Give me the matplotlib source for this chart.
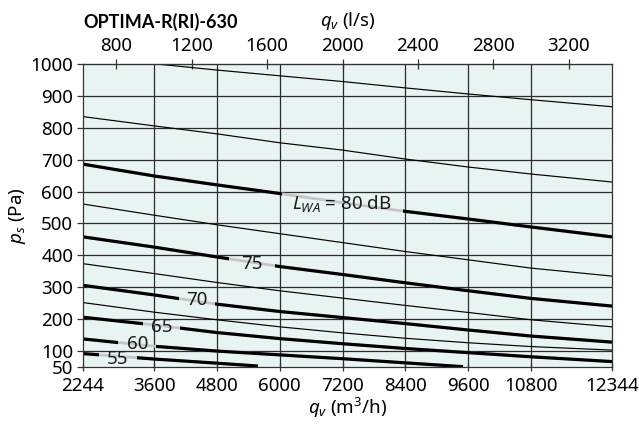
import numpy as np
import matplotlib
matplotlib.use("Agg")
import matplotlib.pyplot as plt
from matplotlib.patches import Rectangle

plt.rcParams['font.family'] = ['Noto Sans', 'DejaVu Sans']
plt.rcParams['mathtext.fontset'] = 'custom'
plt.rcParams['mathtext.rm'] = 'Noto Sans'
plt.rcParams['mathtext.it'] = 'Noto Sans:italic'

# airflow grid (m3/h) where the curves were read
q_grid = [2244, 3600, 4800, 6000, 7200, 8400, 9600, 10800, 12344]

# thin (intermediate) sound power curves, static pressure in Pa
thin_top_q = [3650, 4800, 6000, 7200, 8400, 9600, 10800, 12344]
thin_top_p = [1000, 981, 963, 945, 925, 906, 888, 866]
thin_825_p = [835, 806, 781, 753, 730, 702, 677, 655, 630]
thin_775_p = [561, 526, 496, 468, 440, 412, 386, 360, 335]
thin_725_p = [374, 343, 315, 289, 266, 243, 221, 198, 176]
thin_675_p = [252, 222, 198, 176, 157, 140, 126, 114, 103]

# labelled curves
lwa_80_p = [686, 649, 621, 594, 565, 538, 514, 489, 458]
lwa_75_p = [458, 426, 395, 365, 340, 314, 289, 265, 241]
lwa_70_p = [306, 276, 247, 224, 205, 186, 166, 147, 128]
lwa_65_p = [206, 182, 158, 139, 123, 108, 95, 82, 67]
lwa_60_q = [2244, 3600, 4800, 6000, 7200, 8400, 9500]
lwa_60_p = [138, 115, 100, 88, 76, 63, 51]
lwa_55_q = [2244, 3600, 4800, 5584]
lwa_55_p = [92, 75, 62, 53]

labels = ['$L_{WA}$ = 80 dB', '75', '70', '65', '60', '55']
label_q = [7190, 5470, 4420, 3750, 3280, 2910]
label_p = [564, 373, 260, 176, 122, 75]
gaps = [(6050, 8350), (5030, 5910), (4080, 4760), (3390, 4100), (2910, 3640), (2540, 3275)]

bottom_ticks = [2244, 3600, 4800, 6000, 7200, 8400, 9600, 10800, 12344]
top_ticks = [800, 1200, 1600, 2000, 2400, 2800, 3200]
y_ticks = [50, 100, 200, 300, 400, 500, 600, 700, 800, 900, 1000]

fs = 13.5

fig = plt.figure(figsize=(6.39, 4.24), dpi=100)
ax = fig.add_axes([83 / 639, 1 - 367 / 424, 529 / 639, 303 / 424])
ax.set_facecolor('#e8f4f1')
ax.set_xlim(2244, 12344)
ax.set_ylim(50, 1000)

grid_col = '#2b2b2b'
for x in bottom_ticks[1:-1]:
    ax.axvline(x, color=grid_col, lw=0.9, zorder=1)
for y in y_ticks[1:-1]:
    ax.axhline(y, color=grid_col, lw=0.9, zorder=1)

thin_w = 0.85
thick_w = 2.3
ax.plot(thin_top_q, thin_top_p, color='k', lw=thin_w, zorder=3)
for p in (thin_825_p, thin_775_p, thin_725_p, thin_675_p):
    ax.plot(q_grid, p, color='k', lw=thin_w, zorder=3)

thick = [(q_grid, lwa_80_p), (q_grid, lwa_75_p), (q_grid, lwa_70_p),
         (q_grid, lwa_65_p), (lwa_60_q, lwa_60_p), (lwa_55_q, lwa_55_p)]

for (q, p), (g0, g1), txt, tq, tp in zip(thick, gaps, labels, label_q, label_p):
    # light grey run under the label, black elsewhere
    ax.plot(q, p, color='#c6c6c6', lw=2.0, zorder=3, solid_capstyle='butt')
    for x0, x1 in ((2244, g0), (g1, 12344)):
        ln, = ax.plot(q, p, color='k', lw=thick_w, zorder=4, solid_capstyle='butt')
        ln.set_clip_path(Rectangle((x0, 50), x1 - x0, 950, transform=ax.transData))
    ax.text(tq, tp, txt, ha='center', va='center', fontsize=fs, color='#1a1a1a', zorder=5)

for s in ax.spines.values():
    s.set_color('#333333')
    s.set_linewidth(0.9)
    s.set_zorder(6)

ax.set_xticks(bottom_ticks)
ax.set_yticks(y_ticks)
ax.tick_params(axis='x', direction='inout', length=6, width=0.9, labelsize=fs, pad=4, color='#333333')
ax.tick_params(axis='y', direction='out', length=4, width=0.9, labelsize=fs, pad=3, color='#333333')
ax.set_xlabel('$q_v$ (m$^3$/h)', fontsize=fs, labelpad=1)
ax.set_ylabel('$p_s$ (Pa)', fontsize=fs, labelpad=2)

top = ax.secondary_xaxis('top', functions=(lambda q: q / 3.6, lambda l: l * 3.6))
top.set_xticks(top_ticks)
top.tick_params(direction='inout', length=7, width=0.9, labelsize=fs, pad=3, color='#333333')
top.set_xlabel('$q_v$ (l/s)', fontsize=fs, labelpad=8)

fig.text(83 / 639, 1 - 22 / 424, 'OPTIMA-R(RI)-630', fontsize=13, fontweight='bold',
         family=['Lato', 'DejaVu Sans'], ha='left', va='center')

fig.savefig('out.png', dpi=100)
